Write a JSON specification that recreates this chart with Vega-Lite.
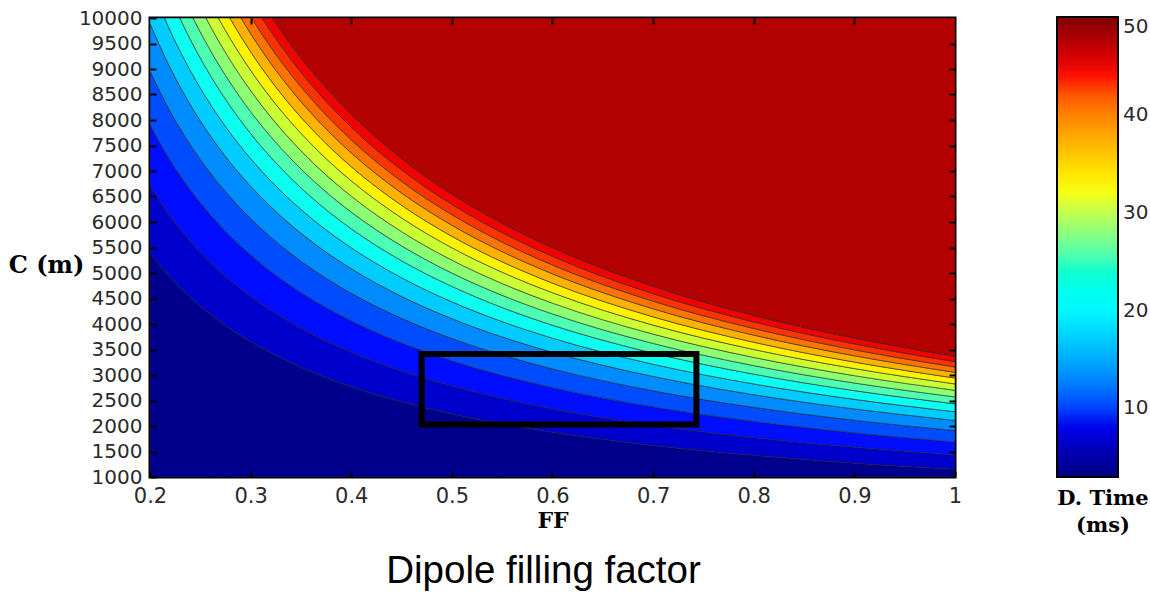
{
  "$schema": "https://vega.github.io/schema/vega-lite/v6.json",
  "autosize": {"type": "none"},
  "width": 805,
  "height": 459,
  "padding": {"left": 150, "top": 18, "right": 195, "bottom": 131},
  "background": "white",
  "config": {
    "view": {"fill": "#00008c", "stroke": "black", "strokeWidth": 3},
    "axis": {"domain": false, "grid": false}
  },
  "title": {"text": "Dipole filling factor", "orient": "bottom", "anchor": "middle", "font": "Liberation Sans", "fontSize": 38.5, "fontWeight": "normal", "color": "black", "offset": 17, "dx": -9},
  "resolve": {"axis": {"x": "independent", "y": "independent"}},
  "datasets": {
    "bands": [
      {"f":0.2,"b":0,"lo":1000,"hi":5392},{"f":0.22,"b":0,"lo":1000,"hi":4920},{"f":0.24,"b":0,"lo":1000,"hi":4526},{"f":0.26,"b":0,"lo":1000,"hi":4191},{"f":0.28,"b":0,"lo":1000,"hi":3903},{"f":0.3,"b":0,"lo":1000,"hi":3653},{"f":0.32,"b":0,"lo":1000,"hi":3434},{"f":0.34,"b":0,"lo":1000,"hi":3240},{"f":0.37,"b":0,"lo":1000,"hi":2987},{"f":0.4,"b":0,"lo":1000,"hi":2772},{"f":0.45,"b":0,"lo":1000,"hi":2475},{"f":0.5,"b":0,"lo":1000,"hi":2237},{"f":0.55,"b":0,"lo":1000,"hi":2041},{"f":0.6,"b":0,"lo":1000,"hi":1878},{"f":0.7,"b":0,"lo":1000,"hi":1620},{"f":0.8,"b":0,"lo":1000,"hi":1425},{"f":0.9,"b":0,"lo":1000,"hi":1272},{"f":1,"b":0,"lo":1000,"hi":1150},
      {"f":0.2,"b":1,"lo":5392,"hi":6704},{"f":0.22,"b":1,"lo":4920,"hi":6118},{"f":0.24,"b":1,"lo":4526,"hi":5628},{"f":0.26,"b":1,"lo":4191,"hi":5211},{"f":0.28,"b":1,"lo":3903,"hi":4854},{"f":0.3,"b":1,"lo":3653,"hi":4543},{"f":0.32,"b":1,"lo":3434,"hi":4270},{"f":0.34,"b":1,"lo":3240,"hi":4028},{"f":0.37,"b":1,"lo":2987,"hi":3714},{"f":0.4,"b":1,"lo":2772,"hi":3446},{"f":0.45,"b":1,"lo":2475,"hi":3078},{"f":0.5,"b":1,"lo":2237,"hi":2782},{"f":0.55,"b":1,"lo":2041,"hi":2539},{"f":0.6,"b":1,"lo":1878,"hi":2335},{"f":0.7,"b":1,"lo":1620,"hi":2014},{"f":0.8,"b":1,"lo":1425,"hi":1772},{"f":0.9,"b":1,"lo":1272,"hi":1582},{"f":1,"b":1,"lo":1150,"hi":1430},
      {"f":0.2,"b":2,"lo":6704,"hi":7900},{"f":0.22,"b":2,"lo":6118,"hi":7209},{"f":0.24,"b":2,"lo":5628,"hi":6631},{"f":0.26,"b":2,"lo":5211,"hi":6141},{"f":0.28,"b":2,"lo":4854,"hi":5719},{"f":0.3,"b":2,"lo":4543,"hi":5353},{"f":0.32,"b":2,"lo":4270,"hi":5031},{"f":0.34,"b":2,"lo":4028,"hi":4747},{"f":0.37,"b":2,"lo":3714,"hi":4376},{"f":0.4,"b":2,"lo":3446,"hi":4061},{"f":0.45,"b":2,"lo":3078,"hi":3627},{"f":0.5,"b":2,"lo":2782,"hi":3278},{"f":0.55,"b":2,"lo":2539,"hi":2991},{"f":0.6,"b":2,"lo":2335,"hi":2752},{"f":0.7,"b":2,"lo":2014,"hi":2373},{"f":0.8,"b":2,"lo":1772,"hi":2088},{"f":0.9,"b":2,"lo":1582,"hi":1864},{"f":1,"b":2,"lo":1430,"hi":1685},
      {"f":0.2,"b":3,"lo":7900,"hi":8955},{"f":0.22,"b":3,"lo":7209,"hi":8172},{"f":0.24,"b":3,"lo":6631,"hi":7517},{"f":0.26,"b":3,"lo":6141,"hi":6961},{"f":0.28,"b":3,"lo":5719,"hi":6483},{"f":0.3,"b":3,"lo":5353,"hi":6067},{"f":0.32,"b":3,"lo":5031,"hi":5703},{"f":0.34,"b":3,"lo":4747,"hi":5380},{"f":0.37,"b":3,"lo":4376,"hi":4961},{"f":0.4,"b":3,"lo":4061,"hi":4603},{"f":0.45,"b":3,"lo":3627,"hi":4111},{"f":0.5,"b":3,"lo":3278,"hi":3716},{"f":0.55,"b":3,"lo":2991,"hi":3391},{"f":0.6,"b":3,"lo":2752,"hi":3119},{"f":0.7,"b":3,"lo":2373,"hi":2690},{"f":0.8,"b":3,"lo":2088,"hi":2366},{"f":0.9,"b":3,"lo":1864,"hi":2113},{"f":1,"b":3,"lo":1685,"hi":1910},
      {"f":0.2,"b":4,"lo":8955,"hi":9893},{"f":0.22,"b":4,"lo":8172,"hi":9027},{"f":0.24,"b":4,"lo":7517,"hi":8304},{"f":0.26,"b":4,"lo":6961,"hi":7690},{"f":0.28,"b":4,"lo":6483,"hi":7162},{"f":0.3,"b":4,"lo":6067,"hi":6703},{"f":0.32,"b":4,"lo":5703,"hi":6300},{"f":0.34,"b":4,"lo":5380,"hi":5944},{"f":0.37,"b":4,"lo":4961,"hi":5480},{"f":0.4,"b":4,"lo":4603,"hi":5085},{"f":0.45,"b":4,"lo":4111,"hi":4542},{"f":0.5,"b":4,"lo":3716,"hi":4105},{"f":0.55,"b":4,"lo":3391,"hi":3746},{"f":0.6,"b":4,"lo":3119,"hi":3446},{"f":0.7,"b":4,"lo":2690,"hi":2972},{"f":0.8,"b":4,"lo":2366,"hi":2614},{"f":0.9,"b":4,"lo":2113,"hi":2335},{"f":1,"b":4,"lo":1910,"hi":2110},
      {"f":0.2,"b":5,"lo":9893,"hi":10690},{"f":0.22,"b":5,"lo":9027,"hi":9755},{"f":0.24,"b":5,"lo":8304,"hi":8973},{"f":0.26,"b":5,"lo":7690,"hi":8309},{"f":0.28,"b":5,"lo":7162,"hi":7739},{"f":0.3,"b":5,"lo":6703,"hi":7243},{"f":0.32,"b":5,"lo":6300,"hi":6808},{"f":0.34,"b":5,"lo":5944,"hi":6423},{"f":0.37,"b":5,"lo":5480,"hi":5922},{"f":0.4,"b":5,"lo":5085,"hi":5495},{"f":0.45,"b":5,"lo":4542,"hi":4907},{"f":0.5,"b":5,"lo":4105,"hi":4435},{"f":0.55,"b":5,"lo":3746,"hi":4047},{"f":0.6,"b":5,"lo":3446,"hi":3723},{"f":0.7,"b":5,"lo":2972,"hi":3211},{"f":0.8,"b":5,"lo":2614,"hi":2825},{"f":0.9,"b":5,"lo":2335,"hi":2523},{"f":1,"b":5,"lo":2110,"hi":2280},
      {"f":0.2,"b":6,"lo":10690,"hi":11416},{"f":0.22,"b":6,"lo":9755,"hi":10418},{"f":0.24,"b":6,"lo":8973,"hi":9583},{"f":0.26,"b":6,"lo":8309,"hi":8874},{"f":0.28,"b":6,"lo":7739,"hi":8265},{"f":0.3,"b":6,"lo":7243,"hi":7735},{"f":0.32,"b":6,"lo":6808,"hi":7270},{"f":0.34,"b":6,"lo":6423,"hi":6859},{"f":0.37,"b":6,"lo":5922,"hi":6324},{"f":0.4,"b":6,"lo":5495,"hi":5868},{"f":0.45,"b":6,"lo":4907,"hi":5241},{"f":0.5,"b":6,"lo":4435,"hi":4737},{"f":0.55,"b":6,"lo":4047,"hi":4323},{"f":0.6,"b":6,"lo":3723,"hi":3976},{"f":0.7,"b":6,"lo":3211,"hi":3429},{"f":0.8,"b":6,"lo":2825,"hi":3017},{"f":0.9,"b":6,"lo":2523,"hi":2694},{"f":1,"b":6,"lo":2280,"hi":2435},
      {"f":0.2,"b":7,"lo":11416,"hi":12049},{"f":0.22,"b":7,"lo":10418,"hi":10995},{"f":0.24,"b":7,"lo":9583,"hi":10114},{"f":0.26,"b":7,"lo":8874,"hi":9366},{"f":0.28,"b":7,"lo":8265,"hi":8723},{"f":0.3,"b":7,"lo":7735,"hi":8164},{"f":0.32,"b":7,"lo":7270,"hi":7674},{"f":0.34,"b":7,"lo":6859,"hi":7240},{"f":0.37,"b":7,"lo":6324,"hi":6675},{"f":0.4,"b":7,"lo":5868,"hi":6194},{"f":0.45,"b":7,"lo":5241,"hi":5532},{"f":0.5,"b":7,"lo":4737,"hi":4999},{"f":0.55,"b":7,"lo":4323,"hi":4562},{"f":0.6,"b":7,"lo":3976,"hi":4197},{"f":0.7,"b":7,"lo":3429,"hi":3619},{"f":0.8,"b":7,"lo":3017,"hi":3184},{"f":0.9,"b":7,"lo":2694,"hi":2843},{"f":1,"b":7,"lo":2435,"hi":2570},
      {"f":0.2,"b":8,"lo":12049,"hi":12659},{"f":0.22,"b":8,"lo":10995,"hi":11551},{"f":0.24,"b":8,"lo":10114,"hi":10626},{"f":0.26,"b":8,"lo":9366,"hi":9840},{"f":0.28,"b":8,"lo":8723,"hi":9164},{"f":0.3,"b":8,"lo":8164,"hi":8577},{"f":0.32,"b":8,"lo":7674,"hi":8062},{"f":0.34,"b":8,"lo":7240,"hi":7606},{"f":0.37,"b":8,"lo":6675,"hi":7013},{"f":0.4,"b":8,"lo":6194,"hi":6507},{"f":0.45,"b":8,"lo":5532,"hi":5811},{"f":0.5,"b":8,"lo":4999,"hi":5252},{"f":0.55,"b":8,"lo":4562,"hi":4793},{"f":0.6,"b":8,"lo":4197,"hi":4409},{"f":0.7,"b":8,"lo":3619,"hi":3802},{"f":0.8,"b":8,"lo":3184,"hi":3345},{"f":0.9,"b":8,"lo":2843,"hi":2987},{"f":1,"b":8,"lo":2570,"hi":2700},
      {"f":0.2,"b":9,"lo":12659,"hi":13245},{"f":0.22,"b":9,"lo":11551,"hi":12086},{"f":0.24,"b":9,"lo":10626,"hi":11118},{"f":0.26,"b":9,"lo":9840,"hi":10295},{"f":0.28,"b":9,"lo":9164,"hi":9588},{"f":0.3,"b":9,"lo":8577,"hi":8974},{"f":0.32,"b":9,"lo":8062,"hi":8435},{"f":0.34,"b":9,"lo":7606,"hi":7958},{"f":0.37,"b":9,"lo":7013,"hi":7337},{"f":0.4,"b":9,"lo":6507,"hi":6808},{"f":0.45,"b":9,"lo":5811,"hi":6080},{"f":0.5,"b":9,"lo":5252,"hi":5495},{"f":0.55,"b":9,"lo":4793,"hi":5015},{"f":0.6,"b":9,"lo":4409,"hi":4613},{"f":0.7,"b":9,"lo":3802,"hi":3978},{"f":0.8,"b":9,"lo":3345,"hi":3500},{"f":0.9,"b":9,"lo":2987,"hi":3126},{"f":1,"b":9,"lo":2700,"hi":2825},
      {"f":0.2,"b":10,"lo":13245,"hi":13784},{"f":0.22,"b":10,"lo":12086,"hi":12578},{"f":0.24,"b":10,"lo":11118,"hi":11570},{"f":0.26,"b":10,"lo":10295,"hi":10715},{"f":0.28,"b":10,"lo":9588,"hi":9979},{"f":0.3,"b":10,"lo":8974,"hi":9339},{"f":0.32,"b":10,"lo":8435,"hi":8778},{"f":0.34,"b":10,"lo":7958,"hi":8282},{"f":0.37,"b":10,"lo":7337,"hi":7636},{"f":0.4,"b":10,"lo":6808,"hi":7085},{"f":0.45,"b":10,"lo":6080,"hi":6328},{"f":0.5,"b":10,"lo":5495,"hi":5719},{"f":0.55,"b":10,"lo":5015,"hi":5219},{"f":0.6,"b":10,"lo":4613,"hi":4801},{"f":0.7,"b":10,"lo":3978,"hi":4140},{"f":0.8,"b":10,"lo":3500,"hi":3642},{"f":0.9,"b":10,"lo":3126,"hi":3253},{"f":1,"b":10,"lo":2825,"hi":2940},
      {"f":0.2,"b":11,"lo":13784,"hi":14309},{"f":0.22,"b":11,"lo":12578,"hi":13057},{"f":0.24,"b":11,"lo":11570,"hi":12011},{"f":0.26,"b":11,"lo":10715,"hi":11123},{"f":0.28,"b":11,"lo":9979,"hi":10359},{"f":0.3,"b":11,"lo":9339,"hi":9695},{"f":0.32,"b":11,"lo":8778,"hi":9113},{"f":0.34,"b":11,"lo":8282,"hi":8597},{"f":0.37,"b":11,"lo":7636,"hi":7927},{"f":0.4,"b":11,"lo":7085,"hi":7355},{"f":0.45,"b":11,"lo":6328,"hi":6569},{"f":0.5,"b":11,"lo":5719,"hi":5937},{"f":0.55,"b":11,"lo":5219,"hi":5418},{"f":0.6,"b":11,"lo":4801,"hi":4984},{"f":0.7,"b":11,"lo":4140,"hi":4298},{"f":0.8,"b":11,"lo":3642,"hi":3781},{"f":0.9,"b":11,"lo":3253,"hi":3377},{"f":1,"b":11,"lo":2940,"hi":3052},
      {"f":0.2,"b":12,"lo":14309,"hi":14806},{"f":0.22,"b":12,"lo":13057,"hi":13511},{"f":0.24,"b":12,"lo":12011,"hi":12428},{"f":0.26,"b":12,"lo":11123,"hi":11509},{"f":0.28,"b":12,"lo":10359,"hi":10719},{"f":0.3,"b":12,"lo":9695,"hi":10032},{"f":0.32,"b":12,"lo":9113,"hi":9429},{"f":0.34,"b":12,"lo":8597,"hi":8896},{"f":0.37,"b":12,"lo":7927,"hi":8202},{"f":0.4,"b":12,"lo":7355,"hi":7611},{"f":0.45,"b":12,"lo":6569,"hi":6797},{"f":0.5,"b":12,"lo":5937,"hi":6143},{"f":0.55,"b":12,"lo":5418,"hi":5606},{"f":0.6,"b":12,"lo":4984,"hi":5157},{"f":0.7,"b":12,"lo":4298,"hi":4447},{"f":0.8,"b":12,"lo":3781,"hi":3912},{"f":0.9,"b":12,"lo":3377,"hi":3494},{"f":1,"b":12,"lo":3052,"hi":3158},
      {"f":0.2,"b":13,"lo":14806,"hi":15294},{"f":0.22,"b":13,"lo":13511,"hi":13956},{"f":0.24,"b":13,"lo":12428,"hi":12838},{"f":0.26,"b":13,"lo":11509,"hi":11888},{"f":0.28,"b":13,"lo":10719,"hi":11072},{"f":0.3,"b":13,"lo":10032,"hi":10362},{"f":0.32,"b":13,"lo":9429,"hi":9740},{"f":0.34,"b":13,"lo":8896,"hi":9189},{"f":0.37,"b":13,"lo":8202,"hi":8472},{"f":0.4,"b":13,"lo":7611,"hi":7861},{"f":0.45,"b":13,"lo":6797,"hi":7021},{"f":0.5,"b":13,"lo":6143,"hi":6346},{"f":0.55,"b":13,"lo":5606,"hi":5791},{"f":0.6,"b":13,"lo":5157,"hi":5327},{"f":0.7,"b":13,"lo":4447,"hi":4594},{"f":0.8,"b":13,"lo":3912,"hi":4041},{"f":0.9,"b":13,"lo":3494,"hi":3609},{"f":1,"b":13,"lo":3158,"hi":3262},
      {"f":0.2,"b":14,"lo":15294,"hi":15777},{"f":0.22,"b":14,"lo":13956,"hi":14397},{"f":0.24,"b":14,"lo":12838,"hi":13243},{"f":0.26,"b":14,"lo":11888,"hi":12263},{"f":0.28,"b":14,"lo":11072,"hi":11421},{"f":0.3,"b":14,"lo":10362,"hi":10689},{"f":0.32,"b":14,"lo":9740,"hi":10047},{"f":0.34,"b":14,"lo":9189,"hi":9479},{"f":0.37,"b":14,"lo":8472,"hi":8740},{"f":0.4,"b":14,"lo":7861,"hi":8110},{"f":0.45,"b":14,"lo":7021,"hi":7243},{"f":0.5,"b":14,"lo":6346,"hi":6546},{"f":0.55,"b":14,"lo":5791,"hi":5974},{"f":0.6,"b":14,"lo":5327,"hi":5495},{"f":0.7,"b":14,"lo":4594,"hi":4739},{"f":0.8,"b":14,"lo":4041,"hi":4169},{"f":0.9,"b":14,"lo":3609,"hi":3723},{"f":1,"b":14,"lo":3262,"hi":3365},
      {"f":0.2,"b":15,"lo":15777,"hi":10000},{"f":0.22,"b":15,"lo":14397,"hi":10000},{"f":0.24,"b":15,"lo":13243,"hi":10000},{"f":0.26,"b":15,"lo":12263,"hi":10000},{"f":0.28,"b":15,"lo":11421,"hi":10000},{"f":0.3,"b":15,"lo":10689,"hi":10000},{"f":0.32,"b":15,"lo":10047,"hi":10000},{"f":0.34,"b":15,"lo":9479,"hi":10000},{"f":0.37,"b":15,"lo":8740,"hi":10000},{"f":0.4,"b":15,"lo":8110,"hi":10000},{"f":0.45,"b":15,"lo":7243,"hi":10000},{"f":0.5,"b":15,"lo":6546,"hi":10000},{"f":0.55,"b":15,"lo":5974,"hi":10000},{"f":0.6,"b":15,"lo":5495,"hi":10000},{"f":0.7,"b":15,"lo":4739,"hi":10000},{"f":0.8,"b":15,"lo":4169,"hi":10000},{"f":0.9,"b":15,"lo":3723,"hi":10000},{"f":1,"b":15,"lo":3365,"hi":10000}
    ],
    "box": [{"f1": 0.47, "f2": 0.743, "c1": 2030, "c2": 3410}],
    "legendrange": [{"d": 3}, {"d": 50}]
  },
  "layer": [
    {
      "data": {"name": "bands"},
      "mark": {"type": "area", "interpolate": "monotone", "clip": true, "stroke": "#202020", "strokeWidth": 0.9, "strokeOpacity": 0.65},
      "encoding": {
        "x": {"field": "f", "type": "quantitative",
          "scale": {"domain": [0.2, 1], "nice": false, "zero": false},
          "axis": {"orient": "bottom", "values": [0.2, 0.3, 0.4, 0.5, 0.6, 0.7, 0.8, 0.9, 1], "format": "~g", "labelFont": "DejaVu Sans", "labelFontSize": 21, "labelColor": "#2a2a2a", "labelFlush": false, "labelOverlap": false, "ticks": true, "tickSize": -6, "tickColor": "black", "tickWidth": 2, "labelPadding": 14, "zindex": 1,
            "title": "FF", "titleFont": "DejaVu Serif", "titleFontWeight": "bold", "titleFontSize": 22, "titleColor": "black", "titlePadding": 4}},
        "y": {"field": "lo", "type": "quantitative",
          "scale": {"domain": [1000, 10000], "nice": false, "zero": false},
          "axis": {"orient": "left", "values": [1000, 1500, 2000, 2500, 3000, 3500, 4000, 4500, 5000, 5500, 6000, 6500, 7000, 7500, 8000, 8500, 9000, 9500, 10000], "format": "d", "labelFont": "DejaVu Sans", "labelFontSize": 20, "labelColor": "#2a2a2a", "labelFlush": false, "labelOverlap": false, "ticks": true, "tickSize": -6, "tickColor": "black", "tickWidth": 2, "labelPadding": 14, "zindex": 1,
            "title": "C (m)", "titleAngle": 0, "titleX": -104, "titleY": 247, "titleAlign": "center", "titleBaseline": "middle", "titleFont": "DejaVu Serif", "titleFontWeight": "bold", "titleFontSize": 24, "titleColor": "black"}},
        "y2": {"field": "hi"},
        "fill": {"field": "b", "type": "ordinal", "legend": null,
          "scale": {"domain": [0,1,2,3,4,5,6,7,8,9,10,11,12,13,14,15],
            "range": ["#00008c","#0000cc","#000dff","#004dff","#008cff","#00ccff","#0dfff2","#4dffb3","#8cff73","#ccff33","#fff200","#ffb300","#ff7300","#ff3300","#f20000","#b30000"]}}
      }
    },
    {
      "data": {"name": "box"},
      "mark": {"type": "rect", "fillOpacity": 0, "stroke": "black", "strokeWidth": 6, "clip": true},
      "encoding": {
        "x": {"field": "f1", "type": "quantitative",
          "axis": {"orient": "top", "values": [0.3, 0.4, 0.5, 0.6, 0.7, 0.8, 0.9], "labels": false, "title": null, "ticks": true, "tickSize": -6, "tickColor": "black", "tickWidth": 2, "zindex": 1}},
        "x2": {"field": "f2"},
        "y": {"field": "c1", "type": "quantitative",
          "axis": {"orient": "right", "values": [1500, 2000, 2500, 3000, 3500, 4000, 4500, 5000, 5500, 6000, 6500, 7000, 7500, 8000, 8500, 9000, 9500], "labels": false, "title": null, "ticks": true, "tickSize": -6, "tickColor": "black", "tickWidth": 2, "zindex": 1}},
        "y2": {"field": "c2"}
      }
    },
    {
      "data": {"name": "legendrange"},
      "mark": {"type": "point", "filled": true, "opacity": 0},
      "encoding": {
        "color": {"field": "d", "type": "quantitative",
          "scale": {"domain": [3, 8.875, 20.625, 32.375, 44.125, 50], "range": ["#000080", "#0000ff", "#00ffff", "#ffff00", "#ff0000", "#800000"]},
          "legend": {"orient": "none", "legendX": 907, "legendY": -1, "direction": "vertical", "gradientLength": 460, "gradientThickness": 61, "gradientStrokeColor": "black", "gradientStrokeWidth": 2, "values": [10, 20, 30, 40, 50], "labelFont": "DejaVu Sans", "labelFontSize": 20, "labelColor": "#2a2a2a", "labelOffset": 5, "labelOverlap": false,
            "title": ["D. Time", "(ms)"], "titleOrient": "bottom", "titleFont": "DejaVu Serif", "titleFontWeight": "bold", "titleFontSize": 21, "titleColor": "black", "titleLineHeight": 27, "titleAnchor": "middle", "titleAlign": "center", "titlePadding": 10}}
      }
    }
  ]
}
